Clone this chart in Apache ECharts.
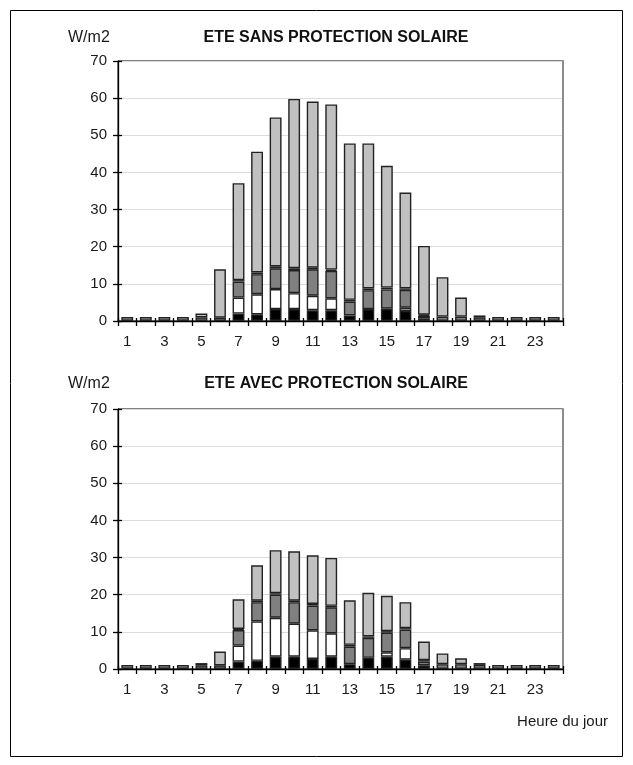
<!DOCTYPE html>
<html>
<head>
<meta charset="utf-8">
<script src="https://cdn.jsdelivr.net/npm/echarts@6/dist/echarts.min.js"></script>
<style>
html,body{margin:0;padding:0;background:#fff;}
#chart{width:633px;height:765px;}
</style>
</head>
<body>
<div id="chart"></div>
<script>
// Categories (hours of the day)
var hours = ['1','2','3','4','5','6','7','8','9','10','11','12','13','14','15','16','17','18','19','20','21','22','23','24'];
var yTicks = [0,10,20,30,40,50,60,70];

// ETE SANS PROTECTION SOLAIRE (stack bottom -> top)
var sansBlack = [0,0,0,0,0,0, 2.0,1.8,3.2,3.2,2.9,2.9, 1.5,3.2,3.3,2.7, 0.6,0,0,0, 0,0,0,0];
var sansWhite = [0,0,0,0,0,0, 4.3,5.4,5.4,4.3,3.9,3.2, 0,0,0,0.9, 0,0,0,0, 0,0,0,0];
var sansDark  = [1.1,1.1,1.1,1.1,1.0,0.9, 4.3,5.4,5.6,6.2,7.1,7.4, 3.7,5.1,5.2,4.8, 0.8,1.2,1.2,1.0, 1.1,1.1,1.1,1.1];
var sansThin  = [0,0,0,0,0,0, 0.4,0.5,0.5,0.5,0.45,0.35, 0.5,0.45,0.5,0.4, 0.3,0,0,0, 0,0,0,0];
var sansLight = [0,0,0,0,1.0,13.0, 26.1,32.5,40.1,45.6,44.75,44.45, 42.1,39.05,32.8,25.8, 18.5,10.6,5.1,0.5, 0,0,0,0];

// ETE AVEC PROTECTION SOLAIRE (stack bottom -> top)
var avecBlack = [0,0,0,0,0,0, 2.0,2.2,3.3,3.3,2.7,3.3, 1.3,3.0,3.3,2.5, 1.0,0,0,0, 0,0,0,0];
var avecWhite = [0,0,0,0,0,0, 4.3,10.6,10.5,8.9,7.7,6.3, 0,0,1.2,3.1, 0,0,0,0, 0,0,0,0];
var avecDark  = [1.1,1.1,1.1,1.1,1.0,1.0, 4.2,5.2,6.2,5.8,6.7,7.0, 4.7,5.4,5.3,5.0, 1.0,1.3,1.3,1.1, 1.1,1.1,1.1,1.1];
var avecThin  = [0,0,0,0,0,0, 0.3,0.4,0.4,0.4,0.4,0.4, 0.5,0.4,0.4,0.4, 0.4,0,0,0, 0,0,0,0];
var avecLight = [0,0,0,0,0.6,3.7, 7.95,9.5,11.6,13.3,13.1,12.9, 12.0,11.7,9.5,7.0, 5.0,2.9,1.6,0.5, 0,0,0,0];

var FONT = 'Liberation Sans, Arial, sans-serif';
var TXT = '#1a1a1a';

function clean(arr){ return arr.map(function(v){ return v === 0 ? '-' : v; }); }

var fills = ['#000000','#ffffff','#808080','#111111','#c0c0c0'];

function seriesFor(idx, arrays){
  return arrays.map(function(arr, i){
    return {
      type:'bar', xAxisIndex: idx*2, yAxisIndex: idx*3, stack:'s'+idx,
      data: clean(arr), barCategoryGap:'36%',
      itemStyle:{color: fills[i], borderColor:'#222', borderWidth:1.4},
      emphasis:{disabled:true}, animation:false
    };
  });
}

var gridTops = [61, 409];
var grids = gridTops.map(function(t){
  return {left:118, top:t, width:445, height:260, show:true, borderColor:'#000', borderWidth:1, backgroundColor:'transparent'};
});

var xAxes = [];
[0,1].forEach(function(i){
  xAxes.push({
    type:'category', gridIndex:i, data:hours, boundaryGap:true,
    axisLine:{show:true, lineStyle:{color:'#000', width:1.3}},
    axisTick:{show:true, interval:0, alignWithLabel:false, length:5, lineStyle:{color:'#000', width:1.3}},
    axisLabel:{interval:1, margin:13, fontFamily:FONT, fontSize:15, color:TXT},
    splitLine:{show:false}
  });
  // inner half of the crossing tick marks
  xAxes.push({
    type:'category', gridIndex:i, data:hours, boundaryGap:true, position:'bottom',
    axisLine:{show:false},
    axisTick:{show:true, inside:true, interval:0, length:3, lineStyle:{color:'#000', width:1.3}},
    axisLabel:{show:false}, splitLine:{show:false}
  });
});

var yAxes = [];
[0,1].forEach(function(i){
  yAxes.push({
    type:'value', gridIndex:i, min:yTicks[0], max:yTicks[yTicks.length-1], interval:10,
    axisLine:{show:true, lineStyle:{color:'#000', width:1.3}},
    axisTick:{show:true, length:5, lineStyle:{color:'#000', width:1.3}},
    axisLabel:{margin:11, fontFamily:FONT, fontSize:15, color:TXT},
    splitLine:{show:true, lineStyle:{color:'#dcdcdc', width:1}}
  });
  yAxes.push({
    type:'value', gridIndex:i, position:'right', min:yTicks[0], max:yTicks[yTicks.length-1], interval:10,
    axisLine:{show:true, lineStyle:{color:'#8c8c8c', width:2}},
    axisTick:{show:false}, axisLabel:{show:false}, splitLine:{show:false}
  });
  // inner half of the crossing tick marks
  yAxes.push({
    type:'value', gridIndex:i, position:'left', min:yTicks[0], max:yTicks[yTicks.length-1], interval:10,
    axisLine:{show:false},
    axisTick:{show:true, inside:true, length:4, lineStyle:{color:'#000', width:1.3}},
    axisLabel:{show:false}, splitLine:{show:false}
  });
});

var chart = echarts.init(document.getElementById('chart'), null, {renderer:'canvas'});
chart.setOption({
  backgroundColor:'#ffffff',
  animation:false,
  title:[
    {text:'ETE SANS PROTECTION SOLAIRE', left:331, top:25, textAlign:'center',
     textStyle:{fontFamily:FONT, fontSize:16, fontWeight:'bold', color:'#111'}},
    {text:'W/m2', left:63, top:25, textStyle:{fontFamily:FONT, fontSize:16, fontWeight:'normal', color:TXT}},
    {text:'ETE AVEC PROTECTION SOLAIRE', left:331, top:371, textAlign:'center',
     textStyle:{fontFamily:FONT, fontSize:16, fontWeight:'bold', color:'#111'}},
    {text:'W/m2', left:63, top:371, textStyle:{fontFamily:FONT, fontSize:16, fontWeight:'normal', color:TXT}},
    {text:'Heure du jour', right:20, top:709, textStyle:{fontFamily:FONT, fontSize:15, fontWeight:'normal', color:TXT}}
  ],
  graphic:[{type:'rect', shape:{x:10.5, y:10.5, width:612, height:746}, style:{fill:'none', stroke:'#000', lineWidth:1}, silent:true}],
  grid: grids,
  xAxis: xAxes,
  yAxis: yAxes,
  series: seriesFor(0,[sansBlack,sansWhite,sansDark,sansThin,sansLight]).concat(
          seriesFor(1,[avecBlack,avecWhite,avecDark,avecThin,avecLight]))
});
</script>
</body>
</html>
